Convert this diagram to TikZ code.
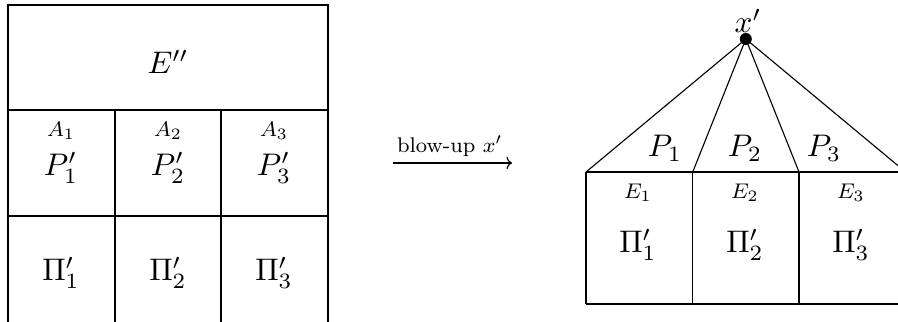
\documentclass[tikz,border=0pt]{standalone}
\usetikzlibrary{arrows.meta}
\begin{document}
\begin{tikzpicture}[x=0.4pt,y=-0.4pt,
  grid/.style={line width=0.45pt,black},
  lab/.style={inner sep=0pt,scale=1.25},
  small/.style={inner sep=0pt,font=\footnotesize,scale=1.06}]
\useasboundingbox (0,0) rectangle (898,321);
\begin{scope}
\clip (0,0) rectangle (898,321);
% left grid
\draw[grid] (8,330) -- (8,5) -- (328,5) -- (328,330);
\draw[grid] (8,110) -- (328,110);
\draw[grid] (8,216) -- (328,216);
\draw[grid] (115,110) -- (115,330);
\draw[grid] (221,110) -- (221,330);
% right figure
\coordinate (apex) at (745.8,39);
\coordinate (b0) at (586,172);
\coordinate (b1) at (692.7,172);
\coordinate (b2) at (799,172);
\coordinate (b3) at (905.6,172);
\draw[grid] (b0) -- (b3);
\draw[grid] (586,304) -- (905,304);
\draw[grid] (b0) -- (586,304);
\draw[grid] (b1) -- (692.7,304);
\draw[grid] (b2) -- (799,304);
\draw[grid] (apex) -- (b0);
\draw[grid] (apex) -- (b1);
\draw[grid] (apex) -- (b2);
\draw[grid] (apex) -- (b3);
\end{scope}
\fill (apex) circle[radius=2.4pt];
\node[lab] (xp) at (748,21) {$x'$};
% left labels
\node[lab] (Epp) at (168,62) {$E''$};
\node[small] (A1) at (61,131) {$A_1$};
\node[small] (A2) at (168,131) {$A_2$};
\node[small] (A3) at (274,131) {$A_3$};
\node[lab] (Pp1) at (61,168) {$P'_1$};
\node[lab] (Pp2) at (168,168) {$P'_2$};
\node[lab] (Pp3) at (274,168) {$P'_3$};
\node[lab] (Pi1) at (61,273) {$\Pi'_1$};
\node[lab] (Pi2) at (168,273) {$\Pi'_2$};
\node[lab] (Pi3) at (274,273) {$\Pi'_3$};
% right labels
\node[lab] (P1) at (665,148) {$P_1$};
\node[lab] (P2) at (745,148) {$P_2$};
\node[lab] (P3) at (824,148) {$P_3$};
\node[small] (E1) at (638,193) {$E_1$};
\node[small] (E2) at (745,193) {$E_2$};
\node[small] (E3) at (851,193) {$E_3$};
\node[lab] (Q1) at (638,245) {$\Pi'_1$};
\node[lab] (Q2) at (745,245) {$\Pi'_2$};
\node[lab] (Q3) at (851,245) {$\Pi'_3$};
% arrow
\coordinate (as) at (393,163);
\coordinate (ae) at (512,163);
\draw[grid,-{To[length=2.2pt,width=5pt]}] (as) -- (ae)
  node[midway,above=2.5pt,inner sep=0pt,font=\footnotesize,scale=1.06,xshift=-1pt] (bl) {blow-up $x'$};
\end{tikzpicture}
\end{document}
